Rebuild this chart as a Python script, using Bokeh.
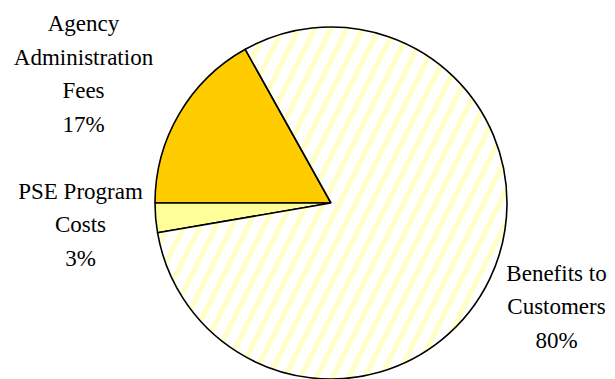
import math
from bokeh.plotting import figure
from bokeh.models import ColumnDataSource
from bokeh.core.properties import value
from bokeh.embed import file_html
from bokeh.resources import INLINE

# Data
categories = ["Agency Administration Fees", "PSE Program Costs", "Benefits to Customers"]
shares = [16.9, 2.7, 80.4]
label_texts = ["Agency\nAdministration\nFees\n17%", "PSE Program\nCosts\n3%", "Benefits to\nCustomers\n80%"]
fill_colors = ["#FFCC00", "#FFFF99", "#FFFFFF"]
hatches = [" ", " ", "/"]

W, H = 615, 379
cx, cy, r = 330.5, 176.5, 176

total = sum(shares)
# Agency/PSE boundary sits on the horizontal (180 degrees)
start0 = math.pi - shares[0] / total * 2 * math.pi
starts, ends = [], []
a = start0
for s in shares:
    starts.append(a)
    a += s / total * 2 * math.pi
    ends.append(a)

src = ColumnDataSource(dict(
    x=[cx] * 3, y=[cy] * 3, start=starts, end=ends,
    color=fill_colors, hatch=hatches, cat=categories,
))

p = figure(width=W, height=H, x_range=(0, W), y_range=(0, H),
           output_backend="svg", toolbar_location=None, min_border=0)
p.axis.visible = False
p.grid.visible = False
p.outline_line_color = None
p.background_fill_color = "white"
p.border_fill_color = "white"

p.wedge(x="x", y="y", radius=r, start_angle="start", end_angle="end",
        fill_color="color", line_color="black", line_width=1.6,
        hatch_pattern="hatch", hatch_color="#FFFFC6", hatch_weight=5,
        hatch_scale=32, source=src)

# label anchor positions (block centres)
lab_x = [83, 80, 556]
lab_y = [H - 73.5, H - 224, H - 306]
p.text(x=lab_x, y=lab_y, text=label_texts, text_align="center",
       text_baseline="middle", text_font=value("Liberation Serif"),
       text_font_size="23px", text_line_height=1.34, text_color="black")

open("out.html", "w").write(file_html(p, INLINE))
